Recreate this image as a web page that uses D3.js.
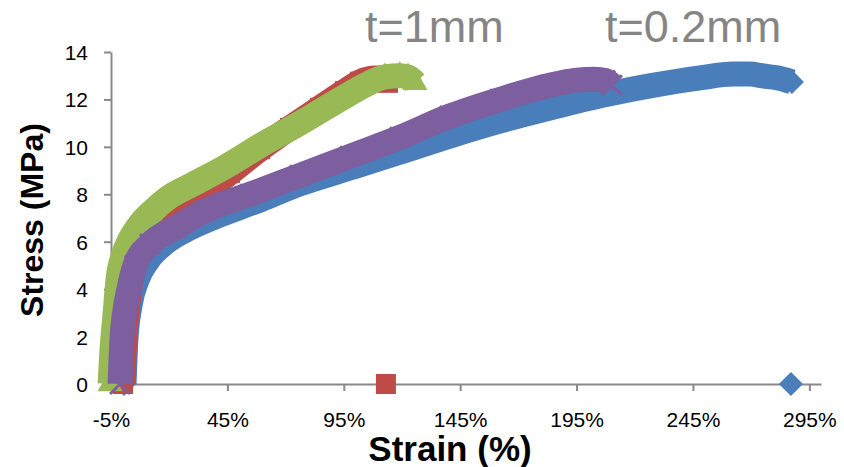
<!DOCTYPE html>
<html>
<head>
<meta charset="utf-8">
<script src="https://cdn.jsdelivr.net/npm/d3@7"></script>
<style>
  body { margin: 0; background: #fff; }
  text { font-family: "Liberation Sans", Arial, sans-serif; }
</style>
</head>
<body>
<div id="chart"></div>
<script>
var svgWidth = 844;
var svgHeight = 467;

// tick labels
var strainTicks = [-5, 45, 95, 145, 195, 245, 295];
var stressTicks = [0, 2, 4, 6, 8, 10, 12, 14];

// series values: [strain %, stress MPa]
var blueData = [
  [0.6, 0], [1.4, 1.86], [3.2, 3.33], [6.2, 4.39], [10.9, 5.23], [18.2, 5.95],
  [28.9, 6.58], [41.8, 7.13], [59.0, 7.76], [76.2, 8.44], [97.7, 9.11],
  [119.1, 9.78], [140.6, 10.46], [162.1, 11.09], [183.6, 11.64], [205.0, 12.15],
  [226.5, 12.57], [248.0, 12.91], [262.2, 13.07], [269.5, 13.07], [275.1, 12.99],
  [281.1, 12.91], [287.5, 12.74]
];
var blueBreak = [[287.1, 0]];

var redData = [
  [0.15, 0], [0.6, 1.4], [1.9, 3.1], [3.6, 4.4], [6.6, 5.4], [10.9, 6.2],
  [16.9, 6.8], [24.6, 7.4], [33.2, 8.0], [46.1, 8.9], [59.0, 9.9], [71.9, 10.8],
  [84.8, 11.65], [95.5, 12.35], [102.0, 12.75], [108.4, 12.9], [113.6, 12.9], [114.0, 12.7]
];
var redBreak = [[113.1, 0]];

var greenData = [
  [-5.4, 0], [-4.6, 1.4], [-3.3, 2.9], [-2.0, 4.4], [0.2, 5.4], [3.2, 6.1],
  [7.5, 6.75], [11.8, 7.2], [19.5, 7.85], [29.8, 8.4], [44.0, 9.15], [59.0, 10.05],
  [76.2, 11.0], [93.4, 12.0], [104.1, 12.6], [112.7, 12.95], [119.1, 13.0],
  [122.6, 12.95], [125.6, 12.7]
];

var purpleData = [
  [-1.1, 0], [-0.3, 1.86], [1.0, 3.1], [2.7, 4.0], [5.3, 5.0], [11.8, 5.9],
  [22.9, 6.6], [35.4, 7.3], [54.7, 8.0], [76.2, 8.8], [97.7, 9.6], [119.1, 10.4],
  [140.6, 11.3], [162.1, 12.0], [183.6, 12.6], [194.3, 12.8], [202.9, 12.85],
  [207.2, 12.8], [210.2, 12.6]
];

var labels = ["t=1mm", "t=0.2mm"];

var svg = d3.select("#chart")
  .append("svg")
  .attr("width", svgWidth)
  .attr("height", svgHeight);

var xScale = d3.scaleLinear().domain([-5, 300]).range([111, 821]);
var yScale = d3.scaleLinear().domain([0, 14]).range([384, 52]);

// axes
var xAxis = svg.append("g")
  .attr("transform", `translate(0, ${yScale(0)})`)
  .call(d3.axisBottom(xScale)
    .tickValues(strainTicks)
    .tickFormat(d => d + "%")
    .tickSize(7)
    .tickPadding(21)
    .tickSizeOuter(0));

var yAxis = svg.append("g")
  .attr("transform", `translate(${xScale(-5)}, 0)`)
  .call(d3.axisLeft(yScale)
    .tickValues(stressTicks)
    .tickSize(7)
    .tickPadding(16)
    .tickSizeOuter(0));

[xAxis, yAxis].forEach(function(ax) {
  ax.select(".domain").attr("stroke", "#898989").attr("stroke-width", 2);
  ax.selectAll(".tick line").attr("stroke", "#898989").attr("stroke-width", 2);
  ax.selectAll(".tick text")
    .attr("fill", "#000")
    .style("font-size", "21px")
    .style("font-family", "'Liberation Sans', Arial, sans-serif");
});
yAxis.selectAll(".tick text").attr("dy", "0.36em");

// series
var line = d3.line()
  .x(d => xScale(d[0]))
  .y(d => yScale(d[1]))
  .curve(d3.curveMonotoneX);

function xPath(s) {
  var h = s / 2;
  return `M${-h},${-h}L${h},${h}M${-h},${h}L${h},${-h}`;
}

var series = [
  { data: blueData, brk: blueBreak, color: "#4a7ebb", shape: "diamond" },
  { data: redData, brk: redBreak, color: "#be4b48", shape: "square" },
  { data: greenData, brk: [], color: "#98b954", shape: "triangle" },
  { data: purpleData, brk: [], color: "#7d5fa0", shape: "x" }
];

var markerShape = {
  diamond: d3.symbol().type(d3.symbolSquare).size(289)(),
  square: d3.symbol().type(d3.symbolSquare).size(400)(),
  triangle: d3.symbol().type(d3.symbolTriangle).size(270)(),
  x: xPath(20)
};

series.forEach(function(s) {
  var g = svg.append("g");

  g.append("path")
    .datum(s.data)
    .attr("d", line)
    .attr("fill", "none")
    .attr("stroke", s.color)
    .attr("stroke-width", 25)
    .attr("stroke-linejoin", "round");

  var pts = s.data.concat(s.brk);
  g.selectAll(".m")
    .data(pts)
    .enter()
    .append("path")
    .attr("d", markerShape[s.shape])
    .attr("transform", d => `translate(${xScale(d[0])}, ${yScale(d[1])})` +
      (s.shape === "diamond" ? " rotate(45)" : ""))
    .attr("fill", s.shape === "x" ? "none" : s.color)
    .attr("stroke", s.color)
    .attr("stroke-width", s.shape === "x" ? 3 : 0);
});

// axis titles
svg.append("text")
  .attr("x", 450)
  .attr("y", 461)
  .attr("text-anchor", "middle")
  .style("font-size", "35px")
  .style("font-weight", "bold")
  .text("Strain (%)");

svg.append("text")
  .attr("transform", "rotate(-90)")
  .attr("x", -220)
  .attr("y", 43)
  .attr("text-anchor", "middle")
  .style("font-size", "32px")
  .style("font-weight", "bold")
  .text("Stress (MPa)");

// annotations
svg.append("text")
  .attr("x", 365)
  .attr("y", 42)
  .attr("fill", "#858585")
  .style("font-size", "45px")
  .text(labels[0]);

svg.append("text")
  .attr("x", 605)
  .attr("y", 42)
  .attr("fill", "#858585")
  .style("font-size", "45px")
  .text(labels[1]);
</script>
</body>
</html>
